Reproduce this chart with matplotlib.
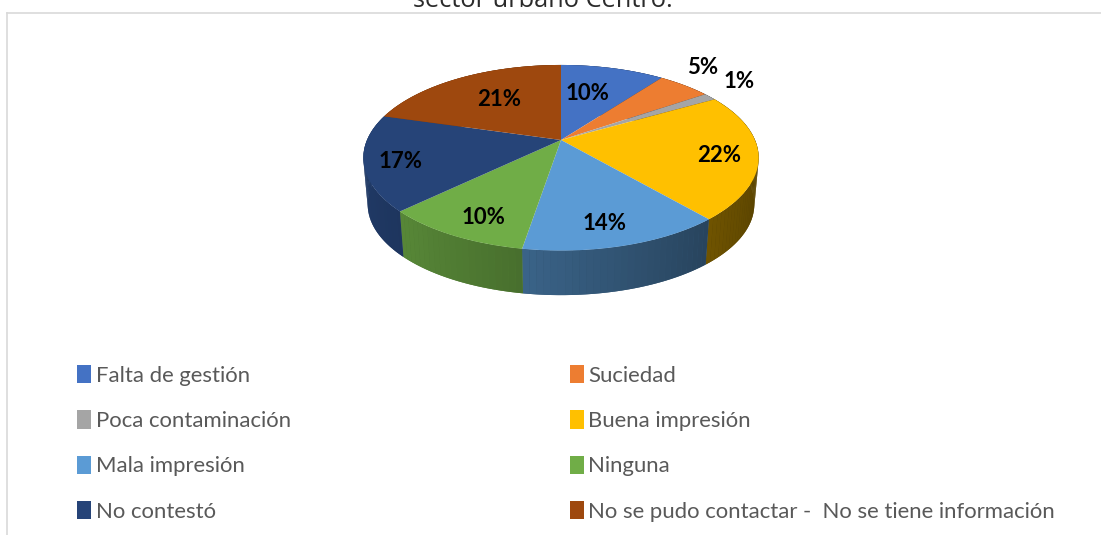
import numpy as np
import matplotlib
matplotlib.use("Agg")
import matplotlib.pyplot as plt
from matplotlib.transforms import Transform
from matplotlib.patches import Patch
from matplotlib.colors import to_rgb

categories = ["Falta de gestión", "Suciedad", "Poca contaminación", "Buena impresión",
              "Mala impresión", "Ninguna", "No contestó",
              "No se pudo contactar -  No se tiene información"]
values = [10.2, 5.2, 1.3, 22.0, 13.9, 10.2, 16.7, 20.5]
labels = ["10%", "5%", "1%", "22%", "14%", "10%", "17%", "21%"]
colors = ["#4472C4", "#ED7D31", "#A5A5A5", "#FFC000", "#5B9BD5", "#70AD47", "#264478", "#9E480E"]

label_x = [587, 703, 739, 719, 605, 483, 401, 499]
label_y = [93, 67, 82, 155, 223, 217, 161, 99]

W, H = 1101, 535
CX, CY, RX, RY, K = 561, 140, 194, 89.4, 0.1914
DEPTH, SHRINK = 47, 0.978


class Tilt(Transform):
    """Perspective view of the flat unit-circle pie, in pixel coordinates."""
    input_dims = output_dims = 2
    is_separable = False
    has_inverse = False

    def __init__(self, drop=0.0, scale=1.0):
        super().__init__()
        self.drop, self.scale = drop, scale

    def transform_non_affine(self, xy):
        xy = np.asarray(xy, float)
        w = 1 + K * xy[:, 1]
        return np.column_stack([CX + self.scale * RX * xy[:, 0] / w,
                                CY + self.drop - self.scale * RY * xy[:, 1] / w])


plt.rcParams["font.family"] = ["Lato", "DejaVu Sans"]
fig = plt.figure(figsize=(W / 100, H / 100), dpi=100, facecolor="white")
ax = fig.add_axes([0, 0, 1, 1])

top, bottom = Tilt(), Tilt(DEPTH, SHRINK)


def shade(c, t):
    s = 0.6 - 0.25 * np.sin(t)
    return tuple(v * s for v in to_rgb(c))


# side wall, drawn from the same shares as the pie
edges = np.cumsum([0] + values) / sum(values) * 2 * np.pi
for a0, a1, c in zip(edges[:-1], edges[1:], colors):
    n = max(2, int((a1 - a0) / 0.03))
    ang = np.linspace(a0, a1, n + 1)
    rim = np.column_stack([np.sin(ang), np.cos(ang)])
    outline = np.vstack([top.transform_non_affine(rim), bottom.transform_non_affine(rim[::-1])])
    ax.fill(outline[:, 0], outline[:, 1], color=shade(c, (a0 + a1) / 2), lw=0, zorder=1)
    for i in range(n):
        unit = rim[i:i + 2]
        p = np.vstack([top.transform_non_affine(unit), bottom.transform_non_affine(unit[::-1])])
        ax.fill(p[:, 0], p[:, 1], color=shade(c, (ang[i] + ang[i + 1]) / 2), lw=0, zorder=1.1)

wedges, _ = ax.pie(values, colors=colors, startangle=90, counterclock=False,
                   wedgeprops={"linewidth": 0}, frame=True)
for w in wedges:
    w.set_transform(top + ax.transData)
    w.set_zorder(2)
    w.set_clip_on(False)

ax.set_aspect("auto")
ax.set_xlim(0, W)
ax.set_ylim(H, 0)
ax.axis("off")

for x, y, t in zip(label_x, label_y, labels):
    ax.text(x, y, t, ha="center", va="center", fontsize=16, fontweight="bold",
            color="black", zorder=3)

# chart frame and the clipped caption above it
ax.plot([7, W], [12.5, 12.5], color="#D9D9D9", lw=1.2, zorder=0)
ax.plot([7, 7], [12.5, H], color="#D9D9D9", lw=1.2, zorder=0)
ax.text(543, 7, "sector urbano Centro.", ha="center", va="baseline", fontsize=18.3,
        family="Open Sans", color="#2b2b2b")

order = [0, 2, 4, 6, 1, 3, 5, 7]
handles = [Patch(facecolor=colors[i], edgecolor="none", label=categories[i]) for i in order]
ax.legend(handles=handles, ncol=2, frameon=False, fontsize=15.9, labelcolor="#595959",
          loc="upper left", bbox_to_anchor=(77 / W, 1 - 365 / H), borderpad=0, borderaxespad=0,
          handlelength=0.65, handleheight=0.9, handletextpad=0.2, labelspacing=1.11,
          columnspacing=12.62)

fig.savefig("out.png", dpi=100)
